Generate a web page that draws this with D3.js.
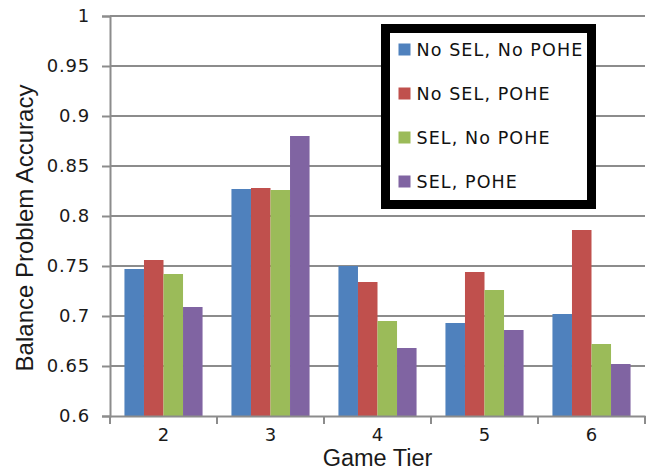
<!DOCTYPE html>
<html>
<head>
<meta charset="utf-8">
<script src="https://cdn.jsdelivr.net/npm/d3@7"></script>
<style>
  body { margin: 0; background: #fff; }
  svg { display: block; }
</style>
</head>
<body>
<svg class="barchart" width="649" height="472"></svg>
<script>
// data
let tiers = ["2", "3", "4", "5", "6"];
let seriesNames = ["No SEL, No POHE", "No SEL, POHE", "SEL, No POHE", "SEL, POHE"];
let noSelNoPohe = [0.747, 0.827, 0.750, 0.693, 0.702];
let noSelPohe   = [0.756, 0.828, 0.734, 0.744, 0.786];
let selNoPohe   = [0.742, 0.826, 0.695, 0.726, 0.672];
let selPohe     = [0.709, 0.880, 0.668, 0.686, 0.652];
let yTicks = [0.6, 0.65, 0.7, 0.75, 0.8, 0.85, 0.9, 0.95, 1];
let colors = ["#4F81BD", "#C0504D", "#9BBB59", "#8064A2"];

let allSeries = [noSelNoPohe, noSelPohe, selNoPohe, selPohe];

let svg = d3.select("body").select(".barchart");
let margin = {top: 16, right: 4, bottom: 56, left: 110};
let plotWidth = 649 - margin.left - margin.right;
let plotHeight = 472 - margin.top - margin.bottom;

let x = d3.scaleBand()
  .domain(tiers)
  .range([0, plotWidth])
  .paddingInner(0.27)
  .paddingOuter(0.135);
let xSub = d3.scaleBand()
  .domain(seriesNames)
  .range([0, x.bandwidth()]);
let y = d3.scaleLinear()
  .domain([0.6, 1])
  .range([plotHeight, 0]);

let plot = svg.append("g").attr("transform", translate(margin.left, margin.top));

// gridlines
plot.append("g")
  .selectAll("line")
  .data(yTicks.slice(1))
  .enter().append("line")
  .attr("x1", 0).attr("x2", plotWidth)
  .attr("y1", d => y(d)).attr("y2", d => y(d))
  .attr("stroke", "#8c8c8c")
  .attr("stroke-width", 2);

// bars
let groups = plot.selectAll(".tier")
  .data(tiers)
  .enter().append("g")
  .attr("class", "tier")
  .attr("transform", d => translate(x(d), 0));

groups.selectAll("rect")
  .data((d, i) => allSeries.map((s, k) => ({name: seriesNames[k], value: s[i], k: k})))
  .enter().append("rect")
  .attr("x", d => xSub(d.name))
  .attr("width", xSub.bandwidth())
  .attr("y", d => y(d.value))
  .attr("height", d => plotHeight - y(d.value))
  .attr("fill", d => colors[d.k]);

// axes
let yAxis = d3.axisLeft(y).tickValues(yTicks).tickSize(8).tickPadding(12)
  .tickFormat(d => d3.format("")(+d.toFixed(2)));
let yGroup = plot.append("g").call(yAxis);
yGroup.select(".domain").attr("stroke", "#8c8c8c").attr("stroke-width", 2);
yGroup.selectAll(".tick line").attr("stroke", "#8c8c8c").attr("stroke-width", 2);
yGroup.selectAll("text")
  .attr("font-family", "DejaVu Sans").attr("font-size", 18)
  .attr("letter-spacing", 0.8).attr("fill", "#1a1a1a");

let xAxis = d3.axisBottom(x).tickSize(0).tickPadding(12);
let xGroup = plot.append("g").attr("transform", translate(0, plotHeight)).call(xAxis);
xGroup.select(".domain").attr("stroke", "#8c8c8c").attr("stroke-width", 2);
xGroup.selectAll("text").attr("font-family", "DejaVu Sans").attr("font-size", 18).attr("fill", "#1a1a1a");
// category boundary ticks
xGroup.selectAll(".sep")
  .data(d3.range(tiers.length + 1))
  .enter().append("line")
  .attr("x1", i => i * x.step()).attr("x2", i => i * x.step())
  .attr("y1", 0).attr("y2", 8)
  .attr("stroke", "#8c8c8c").attr("stroke-width", 2);

// axis titles
svg.append("text")
  .attr("transform", translate(margin.left + plotWidth / 2, 466))
  .attr("text-anchor", "middle")
  .attr("font-family", "Liberation Sans, Arial")
  .attr("font-size", 23.5)
  .attr("fill", "#1a1a1a")
  .text("Game Tier");
svg.append("text")
  .attr("transform", "translate(33," + 228 + ") rotate(-90)")
  .attr("text-anchor", "middle")
  .attr("font-family", "Liberation Sans, Arial")
  .attr("font-size", 24)
  .attr("fill", "#1a1a1a")
  .text("Balance Problem Accuracy");

// legend
let legend = svg.append("g").attr("transform", translate(385.5, 28.5));
legend.append("rect")
  .attr("width", 206).attr("height", 176)
  .attr("fill", "#fff")
  .attr("stroke", "#000")
  .attr("stroke-width", 9);
let items = legend.selectAll(".item")
  .data(seriesNames)
  .enter().append("g")
  .attr("transform", (d, i) => translate(0, 21 + i * 44));
items.append("rect")
  .attr("x", 13).attr("y", -6)
  .attr("width", 12).attr("height", 12)
  .attr("fill", (d, i) => colors[i]);
items.append("text")
  .attr("x", 31).attr("dy", "0.36em")
  .attr("font-family", "DejaVu Sans")
  .attr("font-size", 17.5)
  .attr("letter-spacing", 1.1)
  .attr("fill", "#111")
  .text(d => d);

function translate(x, y) {
  return 'translate(' + x + ',' + y + ')';
}
</script>
</body>
</html>
